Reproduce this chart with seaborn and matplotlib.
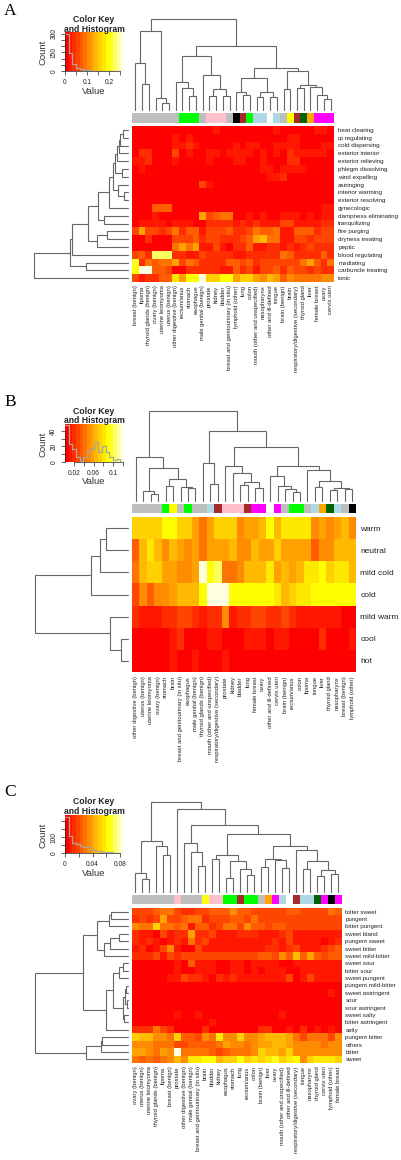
import colorsys
import numpy as np
import matplotlib
matplotlib.use("Agg")
import matplotlib.pyplot as plt
from matplotlib.colors import ListedColormap
import seaborn as sns

sns.set_theme(style="white")
plt.rcParams['font.family'] = ['Liberation Sans', 'DejaVu Sans']

W, H = 402, 1160

# ---- panel A data ----
cols_a = ["breast (benign)", "lipoma", "thyroid glands (benign)", "ovary (benign)", "uterine leiomyoma",
          "uterus (benign)", "other digestive (benign)", "rectum/anus", "stomach", "esophagus",
          "male genital (benign)", "prostate", "kidney", "bladder", "breast and genitourinary (in situ)",
          "lymphoid (other)", "lung", "colon", "mouth (other and unspecified)", "nasopharynx",
          "other and ill-defined", "tongue", "brain (benign)", "brain", "respiratory/digestive (secondary)",
          "thyroid gland", "liver", "female breast", "ovary", "cervix uteri"]
rows_a = ["heat clearing", "qi regulating", "cold dispersing", "exterior interior", "exterior relieving",
          "phlegm dissolving", "wind expelling", "astringing", "interior warming", "exterior resolving",
          "gynecologic", "dampness eliminating", "tranquilizing", "fire purging", "dryness treating",
          "peptic", "blood regulating", "mediating", "carbuncle treating", "tonic"]
strip_a = ["gray"] * 7 + ["green"] * 3 + ["gray"] + ["pink"] * 3 + ["gray", "black", "brown", "green"] + \
          ["lightblue"] * 2 + ["white", "lightblue", "gray", "yellow", "brown", "darkgreen", "orange"] + ["magenta"] * 3
# cell values as colour key bin numbers (0-15)
levels_a = [
    [0, 0, 0, 0, 0, 0, 0, 0, 0, 0, 0, 0, 1, 0, 0, 0, 0, 0, 0, 0, 0, 1, 0, 0, 0, 0, 0, 1, 1, 0],
    [0, 0, 0, 0, 0, 0, 1, 0, 1, 0, 0, 0, 0, 0, 0, 0, 0, 0, 0, 0, 0, 0, 0, 1, 1, 0, 0, 0, 0, 0],
    [0, 0, 0, 0, 0, 0, 1, 1, 2, 1, 0, 0, 0, 0, 0, 1, 0, 1, 1, 0, 0, 1, 1, 1, 1, 0, 0, 0, 1, 1],
    [0, 2, 2, 0, 0, 0, 3, 0, 1, 0, 0, 1, 1, 0, 1, 1, 1, 1, 0, 1, 0, 1, 0, 2, 1, 1, 1, 1, 1, 0],
    [1, 1, 2, 0, 0, 0, 1, 0, 0, 0, 0, 1, 0, 0, 0, 1, 1, 0, 0, 1, 0, 0, 0, 2, 2, 0, 0, 0, 0, 0],
    [0, 1, 0, 0, 0, 0, 0, 0, 0, 0, 0, 0, 0, 0, 0, 0, 0, 0, 0, 1, 1, 0, 1, 1, 1, 1, 0, 0, 0, 0],
    [0, 0, 0, 0, 0, 0, 0, 0, 0, 0, 0, 0, 0, 0, 0, 0, 0, 0, 0, 0, 1, 1, 2, 0, 0, 0, 0, 0, 0, 0],
    [0, 0, 0, 0, 0, 0, 0, 0, 0, 0, 3, 1, 0, 0, 0, 0, 0, 0, 0, 0, 0, 0, 0, 0, 0, 0, 0, 0, 0, 0],
    [0, 0, 0, 0, 0, 0, 0, 0, 0, 0, 0, 0, 0, 0, 0, 0, 0, 0, 0, 0, 0, 0, 0, 0, 0, 0, 0, 0, 0, 0],
    [0, 0, 0, 0, 0, 0, 0, 0, 0, 0, 0, 0, 0, 0, 0, 0, 0, 0, 0, 0, 0, 0, 0, 0, 0, 0, 0, 0, 0, 0],
    [0, 0, 0, 4, 4, 4, 0, 0, 0, 0, 0, 0, 0, 0, 0, 0, 0, 0, 0, 0, 0, 0, 0, 0, 0, 0, 0, 0, 1, 1],
    [0, 0, 0, 1, 0, 0, 0, 0, 0, 0, 7, 3, 4, 5, 5, 0, 0, 1, 0, 1, 0, 0, 1, 1, 1, 0, 1, 0, 1, 1],
    [0, 1, 1, 1, 1, 0, 1, 1, 1, 0, 0, 2, 2, 2, 2, 1, 2, 1, 2, 1, 1, 1, 3, 3, 1, 1, 1, 1, 2, 2],
    [3, 7, 3, 3, 2, 3, 5, 2, 4, 4, 1, 3, 3, 3, 4, 2, 2, 3, 5, 4, 4, 5, 1, 1, 4, 4, 4, 2, 3, 3],
    [0, 0, 2, 0, 0, 0, 3, 3, 3, 4, 2, 3, 3, 2, 2, 2, 3, 4, 7, 8, 5, 5, 1, 1, 3, 3, 2, 3, 3, 3],
    [0, 0, 0, 0, 0, 0, 5, 7, 5, 7, 1, 1, 3, 1, 0, 2, 2, 4, 1, 1, 2, 2, 1, 2, 1, 2, 3, 2, 2, 2],
    [3, 4, 2, 13, 13, 13, 2, 2, 1, 1, 3, 2, 2, 2, 2, 1, 1, 2, 2, 2, 2, 2, 5, 4, 2, 2, 2, 2, 4, 2],
    [12, 2, 5, 4, 5, 5, 7, 3, 5, 4, 2, 2, 2, 2, 4, 4, 3, 4, 2, 3, 3, 3, 3, 3, 3, 5, 7, 4, 2, 5],
    [11, 15, 15, 4, 4, 3, 0, 0, 2, 2, 2, 2, 2, 1, 1, 4, 2, 3, 1, 3, 3, 4, 2, 4, 3, 3, 2, 3, 2, 2],
    [3, 1, 2, 2, 4, 4, 10, 7, 11, 11, 15, 9, 9, 11, 11, 7, 9, 9, 7, 6, 8, 7, 4, 6, 5, 5, 5, 5, 6, 6],
]
# dendrograms: (height, left, right), ints are leaves
top_a = (91, (79, (47, 0, (26, 1, 2)), (12, 3, (7, 4, 5))),
         (64, (54, (28, 6, (22, 7, (14, 8, 9))),
               (35, 10, (21, (14, 11, 12), (14, 13, 14)))),
          (42, (32, (18, 15, (15, 16, 17)), (18, (13, 18, 19), (13, 20, 21))),
           (39, (21, 22, 23), (25, (22, 24, 25), (23, 26, (15, 27, (11, 28, 29))))))))
side_a = (94, (58, (56, (40, (30, (19, (15, (13, (11, (9, (8, (5, 0, 1), 2), 3), 4), (6, 5, 6)),
                                        (10, 7, (4, 8, 9))), 10), (24, 11, 12)),
                         (31, (21, 13, 14), 15)), 16), (42, 17, 18)), 19)
hist_a = [300, 143, 55, 27, 15, 9, 6, 4, 3, 2, 1, 1, 1, 1, 1, 1]
range_a = (0.0, 0.266)

# ---- panel B data ----
cols_b = ["other digestive (benign)", "uterus (benign)", "uterine leiomyoma", "ovary (benign)", "stomach", "brain",
          "breast and genitourinary (in situ)", "esophagus", "male genital (benign)", "thyroid glands (benign)",
          "mouth (other and unspecified)", "respiratory/digestive (secondary)", "prostate", "kidney", "bladder",
          "lung", "female breast", "ovary", "other and ill-defined", "cervix uteri", "brain (benign)",
          "rectum/anus", "colon", "lipoma", "tongue", "liver", "thyroid gland", "nasopharynx",
          "breast (benign)", "lymphoid (other)"]
rows_b = ["warm", "neutral", "mild cold", "cold", "mild warm", "cool", "hot"]
strip_b = ["gray"] * 4 + ["green", "yellow", "gray", "green", "gray", "gray", "lightblue", "brown"] + ["pink"] * 3 + \
          ["brown", "magenta", "magenta", "white", "magenta", "gray", "green", "green", "gray", "lightblue",
           "orange", "darkgreen", "lightblue", "gray", "black"]
levels_b = [
    [9, 9, 9, 9, 11, 11, 9, 9, 7, 5, 7, 9, 9, 9, 6, 7, 7, 8, 11, 8, 10, 10, 10, 10, 6, 7, 6, 7, 8, 6],
    [4, 8, 10, 8, 6, 8, 7, 6, 7, 5, 7, 7, 7, 8, 6, 6, 8, 7, 7, 9, 7, 7, 7, 7, 4, 6, 6, 8, 8, 8],
    [5, 8, 9, 9, 7, 7, 6, 6, 7, 15, 11, 13, 5, 5, 6, 8, 8, 8, 10, 7, 8, 7, 8, 10, 10, 11, 9, 10, 10, 8],
    [3, 6, 4, 6, 6, 7, 8, 8, 8, 11, 15, 15, 15, 11, 11, 11, 11, 11, 11, 10, 8, 9, 10, 10, 11, 11, 11, 11, 11, 11],
    [2, 1, 1, 1, 2, 2, 3, 3, 2, 1, 2, 2, 6, 1, 2, 2, 3, 3, 2, 2, 3, 2, 1, 1, 1, 1, 1, 1, 0, 0],
    [0, 0, 0, 0, 0, 1, 2, 0, 0, 0, 1, 1, 0, 0, 0, 1, 1, 1, 0, 1, 1, 0, 0, 0, 0, 2, 0, 0, 0, 1],
    [0, 0, 0, 0, 0, 1, 0, 0, 1, 0, 0, 0, 1, 0, 0, 0, 0, 0, 0, 0, 0, 0, 0, 0, 0, 0, 0, 0, 0, 0],
]
top_b = (90, (44, 0, (33, (10, 1, (7, 2, 3)), (22, (15, 4, 5), (14, 6, (13, 7, 8))))),
         (70, (38, 9, (17, 10, 11)),
          (54, (35, 12, (28, 13, (19, (16, 14, 15), (13, 16, 17)))),
           (35, (25, 18, (15, 19, (12, 20, (9, 21, 22)))),
            (31, 23, (20, (14, 24, 25), (13, (11, 26, 27), (12, 28, 29))))))))
side_b = (93, (37, (28, (22, 0, 1), 2), 3), (18, 4, (7, 5, 6)))
hist_b = [48, 23, 17, 6, 1, 7, 14, 18, 26, 13, 20, 13, 6, 2, 4, 0]
range_b = (0.0015, 0.1225)

# ---- panel C data ----
cols_c = ["ovary (benign)", "uterus (benign)", "uterine leiomyoma", "thyroid glands (benign)", "lipoma",
          "breast (benign)", "prostate", "other digestive (benign)", "male genital (benign)",
          "breast and genitourinary (in situ)", "brain", "bladder", "kidney", "esophagus", "stomach", "lung",
          "rectum/anus", "colon", "brain (benign)", "liver", "ovary", "mouth (other and unspecified)",
          "other and ill-defined", "respiratory/digestive (secondary)", "tongue", "nasopharynx", "thyroid gland",
          "cervix uteri", "lymphoid (other)", "female breast"]
rows_c = ["bitter sweet", "pungent", "bitter pungent", "sweet bland", "pungent sweet", "sweet bitter",
          "sweet mild-bitter", "sweet sour", "bitter sour", "sweet pungent", "pungent mild-bitter",
          "sweet astringent", "sour", "sour astringent", "sweet salty", "bitter astringent", "salty",
          "pungent bitter", "others", "bitter", "sweet"]
strip_c = ["gray"] * 6 + ["pink"] + ["gray"] * 3 + ["yellow", "pink", "pink", "green", "green", "brown", "green",
           "green", "gray", "orange", "magenta", "lightblue", "white", "brown", "lightblue", "lightblue",
           "darkgreen", "magenta", "black", "magenta"]
levels_c = [
    [3, 3, 3, 4, 5, 5, 3, 2, 2, 3, 3, 4, 4, 4, 6, 4, 4, 3, 3, 3, 3, 3, 4, 4, 3, 3, 3, 3, 5, 4],
    [2, 3, 2, 3, 7, 3, 3, 4, 5, 5, 2, 3, 3, 3, 4, 4, 3, 5, 3, 3, 3, 3, 3, 3, 3, 3, 3, 3, 3, 3],
    [6, 5, 5, 9, 5, 5, 4, 5, 1, 4, 4, 2, 3, 5, 5, 3, 6, 4, 4, 3, 4, 4, 3, 3, 3, 3, 3, 3, 3, 3],
    [2, 1, 1, 0, 3, 1, 2, 2, 7, 2, 2, 3, 1, 1, 1, 2, 2, 2, 1, 1, 1, 2, 3, 1, 1, 1, 1, 1, 1, 1],
    [2, 1, 2, 1, 0, 1, 2, 1, 5, 2, 3, 1, 1, 1, 1, 1, 1, 1, 1, 1, 2, 1, 3, 1, 1, 1, 1, 0, 1, 2],
    [1, 2, 0, 1, 3, 6, 1, 0, 0, 3, 1, 1, 1, 1, 1, 1, 1, 1, 1, 2, 2, 1, 2, 3, 1, 1, 1, 2, 3, 4],
    [2, 2, 2, 3, 1, 3, 2, 3, 3, 3, 3, 3, 3, 3, 3, 3, 3, 3, 4, 4, 3, 6, 4, 8, 4, 7, 4, 3, 4, 4],
    [0, 0, 0, 0, 0, 0, 1, 0, 4, 1, 1, 1, 0, 0, 1, 1, 0, 1, 1, 1, 1, 0, 0, 1, 1, 1, 1, 1, 1, 1],
    [0, 0, 0, 0, 0, 0, 1, 0, 0, 1, 1, 1, 0, 0, 1, 1, 0, 1, 0, 1, 1, 1, 0, 0, 1, 1, 1, 1, 1, 1],
    [0, 0, 0, 0, 0, 1, 1, 3, 2, 2, 1, 0, 2, 1, 2, 1, 1, 1, 1, 1, 1, 1, 3, 0, 1, 3, 1, 1, 1, 1],
    [0, 0, 0, 0, 0, 0, 0, 0, 0, 0, 0, 0, 0, 0, 0, 0, 0, 0, 0, 0, 0, 0, 0, 0, 0, 0, 0, 0, 0, 0],
    [0, 0, 0, 0, 0, 0, 0, 0, 0, 0, 0, 0, 0, 0, 0, 0, 0, 0, 0, 0, 0, 0, 0, 0, 0, 0, 0, 0, 1, 0],
    [0, 0, 0, 0, 0, 0, 0, 0, 0, 0, 0, 0, 0, 0, 0, 0, 0, 0, 0, 0, 0, 0, 0, 0, 0, 0, 0, 0, 0, 0],
    [0, 0, 0, 0, 0, 0, 0, 0, 0, 0, 0, 0, 0, 0, 0, 0, 0, 0, 0, 0, 0, 0, 0, 0, 0, 0, 0, 0, 0, 0],
    [0, 0, 0, 0, 0, 0, 1, 0, 0, 1, 0, 0, 0, 0, 0, 0, 0, 0, 0, 0, 0, 1, 0, 0, 0, 0, 0, 0, 0, 0],
    [0, 0, 0, 0, 0, 0, 0, 0, 0, 0, 0, 1, 0, 0, 0, 0, 0, 0, 0, 0, 0, 0, 0, 0, 0, 0, 0, 0, 0, 0],
    [2, 2, 2, 5, 3, 2, 0, 0, 0, 0, 2, 0, 0, 0, 0, 0, 0, 0, 2, 2, 0, 0, 1, 0, 2, 0, 1, 0, 1, 0],
    [9, 8, 8, 6, 6, 5, 9, 4, 4, 3, 6, 5, 10, 6, 6, 9, 6, 6, 7, 8, 8, 8, 7, 5, 3, 5, 5, 5, 3, 6],
    [6, 6, 6, 5, 5, 5, 3, 3, 4, 4, 4, 4, 5, 7, 6, 6, 5, 6, 7, 7, 8, 8, 7, 6, 6, 6, 6, 5, 6, 6],
    [7, 7, 6, 5, 7, 6, 15, 5, 5, 5, 5, 4, 3, 4, 5, 5, 5, 6, 9, 8, 8, 7, 9, 6, 6, 6, 6, 6, 6, 6],
    [5, 4, 5, 4, 5, 6, 8, 6, 10, 10, 11, 11, 8, 9, 9, 11, 9, 10, 9, 10, 12, 9, 10, 11, 6, 9, 10, 10, 10, 9],
]
top_c = (90, (51, (19, 0, (13, 1, 2)), (46, 3, (37, 4, 5))),
         (83, 6, (67, (49, 7, (40, 8, (26, 9, 10))),
                  (58, (37, (33, 11, 12), (31, (14, 13, 14), (23, 15, (17, 16, 17)))),
                   (46, (33, (25, 18, 19), (32, 20, (24, 21, 22))),
                    (42, 23, (31, (23, 24, 25), (22, (16, 26, 27), (18, 28, 29)))))))))
side_c = (93, (45, (31, (19, (17, 0, 1), 2), (24, (18, (9, 3, 4), 5), 6)),
               (22, (15, (9, (5, 7, 8), 9), (5, (3, (2, 10, 11), (1, 12, 13)), (4, 14, 15))), 16)),
          (42, (27, (26, 17, 18), 19), 20))
hist_c = [229, 110, 62, 54, 44, 40, 37, 21, 15, 12, 8, 6, 4, 2, 2, 1]
range_c = (0.0, 0.0858)

strip_palette = {"gray": "#bebebe", "green": "#00ff00", "pink": "#ffc0cb", "black": "#000000", "brown": "#a52a2a",
                 "lightblue": "#add8e6", "white": "#ffffff", "yellow": "#ffff00", "darkgreen": "#006400",
                 "orange": "#ffa500", "magenta": "#ff00ff"}


def heat_colors(n):
    # same idea as heat.colors in R: red to yellow, then yellow to pale
    j = n // 4
    i = n - j
    out = [colorsys.hsv_to_rgb(k / (i - 1) / 6, 1, 1) for k in range(i)]
    out += [colorsys.hsv_to_rgb(1 / 6, 1 - (2 * k + 1) / (2 * j), 1) for k in range(j)]
    return out


heat = ListedColormap(heat_colors(16))
fig = plt.figure(figsize=(W / 100, H / 100), dpi=100)


def px_axes(x0, y0, x1, y1):
    return fig.add_axes([x0 / W, 1 - y1 / H, (x1 - x0) / W, (y1 - y0) / H])


def px_text(x, y, s, **kw):
    fig.text(x / W, 1 - y / H, s, va='center', **kw)


def draw_tree(ax, node, side):
    if not isinstance(node, tuple):
        return node + 0.5, 0
    h, left, right = node
    p1, h1 = draw_tree(ax, left, side)
    p2, h2 = draw_tree(ax, right, side)
    xs, ys = [p1, p1, p2, p2], [h1, h, h, h2]
    if side:
        xs, ys = ys, xs
    ax.plot(xs, ys, color='#666666', lw=0.8, clip_on=False, solid_joinstyle='miter')
    return (p1 + p2) / 2, h


def panel(letter, letter_y, cols, rows, strip, levels, top, side, hist, vrange, cfg):
    x0, x1 = 132, cfg['right']
    lo, hi = vrange
    bin_w = (hi - lo) / 16
    values = lo + (np.array(levels) + 0.5) * bin_w

    px_text(4, letter_y, letter, family='Liberation Serif', fontsize=12.5, color='black')

    # main heatmap
    ax = px_axes(x0, cfg['hm_top'], x1, cfg['hm_bot'])
    sns.heatmap(values, ax=ax, cmap=heat, vmin=lo, vmax=hi, cbar=False, xticklabels=cols, yticklabels=rows)
    ax.yaxis.tick_right()
    ax.tick_params(axis='y', length=0, pad=cfg['ypad'], labelsize=cfg['yfont'], labelrotation=0, colors='#222222')
    ax.tick_params(axis='x', length=0, pad=cfg['xpad'], labelsize=cfg['xfont'], labelrotation=90, colors='#222222')

    # colour strip above the heatmap
    ax_s = px_axes(x0, cfg['strip'][0], x1, cfg['strip'][1])
    names = list(strip_palette)
    sns.heatmap(np.array([[names.index(c) for c in strip]]), ax=ax_s, vmin=-0.5, vmax=len(names) - 0.5,
                cmap=ListedColormap(list(strip_palette.values())), cbar=False, xticklabels=False, yticklabels=False)

    # top dendrogram
    base = cfg['leaf_y']
    ax_t = px_axes(x0, base - top[0], x1, base)
    draw_tree(ax_t, top, False)
    ax_t.set_xlim(0, len(cols))
    ax_t.set_ylim(0, top[0])
    ax_t.axis('off')

    # side dendrogram
    ax_l = px_axes(128.3 - side[0], cfg['hm_top'], 128.3, cfg['hm_bot'])
    draw_tree(ax_l, side, True)
    ax_l.set_xlim(side[0], 0)
    ax_l.set_ylim(len(rows), 0)
    ax_l.axis('off')

    # colour key with histogram
    k_top, k_bot = cfg['key']
    ax_k = px_axes(65, k_top, 124, k_bot)
    ax_k.imshow(np.arange(16).reshape(1, -1), cmap=heat, aspect='auto', extent=(lo, hi, 0, cfg['ymax']))
    edges = np.linspace(lo, hi, 17)
    sns.lineplot(x=edges, y=list(hist) + [hist[-1]], ax=ax_k, drawstyle='steps-post', estimator=None,
                 color='#a8a89c', lw=0.9)
    ax_k.set_xlim(lo, hi)
    ax_k.set_ylim(0, cfg['ymax'])
    sns.despine(ax=ax_k)
    for s in ('left', 'bottom'):
        ax_k.spines[s].set_linewidth(0.5)
        ax_k.spines[s].set_color('#222222')
    ax_k.spines['left'].set_bounds(cfg['yticks'][0], cfg['yticks'][-1])
    ax_k.spines['bottom'].set_bounds(cfg['xticks'][0], cfg['xticks'][-1])
    ax_k.set_xticks(cfg['xticks'], cfg['xlabels'])
    ax_k.set_yticks(cfg['yticks'], cfg['ylabels'], rotation=90, va='center')
    ax_k.tick_params(length=3, width=0.5, labelsize=4.8, pad=2.5, color='#222222', labelcolor='#222222', bottom=True, left=True)
    ax_k.set_xlabel('')
    ax_k.set_ylabel('')
    px_text(94, k_top - 13, 'Color Key', ha='center', fontsize=6.2, fontweight='bold', color='#222222')
    px_text(94, k_top - 3, 'and Histogram', ha='center', fontsize=6.2, fontweight='bold', color='#222222')
    px_text(94, k_bot + 20, 'Value', ha='center', fontsize=6.8, color='#333333')
    px_text(43, (k_top + k_bot) / 2 + 1, 'Count', ha='center', rotation=90, fontsize=6.8, color='#333333')


panel('A', 11, cols_a, rows_a, strip_a, levels_a, top_a, side_a, hist_a, range_a, dict(
    right=334, hm_top=126, hm_bot=282, strip=(112.7, 122.7), leaf_y=110, key=(32, 71),
    ypad=3, xpad=2.5, yfont=4.5, xfont=4.25, ymax=316,
    xticks=[0, 0.05, 0.1, 0.15, 0.2, 0.25], xlabels=['0', '', '0.1', '', '0.2', ''],
    yticks=[0, 50, 100, 150, 200, 250, 300], ylabels=['0', '', '', '150', '', '', '300']))

panel('B', 402, cols_b, rows_b, strip_b, levels_b, top_b, side_b, hist_b, range_b, dict(
    right=356, hm_top=517, hm_bot=672, strip=(504, 513), leaf_y=500.7, key=(424, 462),
    ypad=3, xpad=3, yfont=6, xfont=4.25, ymax=49,
    xticks=[0.02, 0.04, 0.06, 0.08, 0.1, 0.12], xlabels=['0.02', '', '0.06', '', '0.1', ''],
    yticks=[0, 10, 20, 30, 40], ylabels=['0', '', '20', '', '40']))

panel('C', 792, cols_c, rows_c, strip_c, levels_c, top_c, side_c, hist_c, range_c, dict(
    right=342, hm_top=908, hm_bot=1063, strip=(895, 904), leaf_y=891.7, key=(815, 853),
    ypad=2.5, xpad=2.5, yfont=4.4, xfont=4.25, ymax=240,
    xticks=[0, 0.02, 0.04, 0.06, 0.08], xlabels=['0', '', '0.04', '', '0.08'],
    yticks=[0, 50, 100, 150, 200], ylabels=['0', '', '100', '', '']))

fig.savefig('out.png', dpi=100)
